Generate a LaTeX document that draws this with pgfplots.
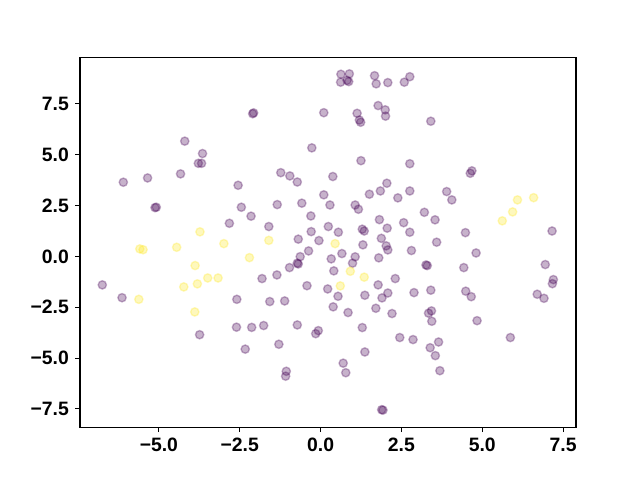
\documentclass[border=0pt]{standalone}
\usepackage{fontspec}
\setmainfont{Liberation Sans}
\usepackage{pgfplots}
\pgfplotsset{compat=1.18}
\definecolor{vP}{RGB}{68,1,84}
\definecolor{vY}{RGB}{253,231,37}
\begin{document}
\begin{tikzpicture}
\useasboundingbox (-0.8in,-0.528in) rectangle (5.6in,4.272in);
\begin{axis}[
  at={(0,0)}, anchor=south west,
  scale only axis, width=4.96in, height=3.696in,
  xmin=-7.44, xmax=7.90, ymin=-8.40, ymax=9.78,
  axis line style={line width=0.8pt, black},
  tick align=outside, tick style={line width=0.8pt, black},
  major tick length=3.5pt,
  xtick={-5,-2.5,0,2.5,5,7.5},
  xticklabels={−5.0,−2.5,0.0,2.5,5.0,7.5},
  ytick={-7.5,-5,-2.5,0,2.5,5,7.5},
  yticklabels={−7.5,−5.0,−2.5,0.0,2.5,5.0,7.5},
  xtick pos=bottom, ytick pos=left,
  ticklabel style={font=\fontsize{14}{16}\selectfont\bfseries},
  xticklabel style={yshift=-1pt},
  yticklabel style={xshift=-1pt},
  every axis plot/.append style={only marks, mark=*, mark size=3pt, line width=1pt},
]
\addplot[mark options={fill=vP, draw=vP, opacity=0.3}] coordinates {
(0.63,8.96) (0.89,8.98) (0.62,8.57) (0.82,8.66) (0.87,8.60) (1.67,8.89) (1.72,8.49) (2.08,8.55) (2.59,8.57) (2.76,8.84)
(-2.10,7.02) (-2.07,7.06) (0.10,7.07) (1.13,7.04) (1.20,6.71) (1.24,6.60) (1.78,7.42) (2.00,7.21) (2.01,6.90)
(-0.27,5.34) (1.25,4.71) (2.76,4.56) (-1.23,4.12) (-0.95,3.96) (-0.72,3.66) (0.38,3.93) (2.05,3.60) (1.85,3.22)
(1.51,3.06) (0.10,3.03) (2.76,3.22) (2.39,2.88) (-1.34,2.55) (-0.58,2.62) (0.29,2.53) (1.07,2.53) (1.17,2.32)
(-2.15,1.98) (-0.30,1.99) (1.82,1.81) (2.57,1.66) (-1.60,1.47) (0.24,1.47) (2.06,1.39) (-0.29,1.22) (0.55,1.19)
(1.29,1.34) (1.35,1.25) (2.76,1.19) (-0.69,0.85) (-0.05,0.78) (1.31,0.57) (1.88,0.89) (2.03,0.52) (2.08,0.32)
(-4.20,5.67) (-3.65,5.06) (-3.78,4.58) (-3.68,4.58) (-6.10,3.65) (-5.35,3.86) (-4.33,4.06) (-2.55,3.50)
(-5.12,2.40) (-5.08,2.42) (-2.45,2.42) (-2.82,1.63) (3.41,6.65) (4.68,4.21) (4.63,4.09) (3.90,3.19) (4.06,2.78)
(3.21,2.17) (3.54,1.80) (4.48,1.17) (7.16,1.25) (3.59,0.70) (-6.75,-1.40) (-6.14,-2.03) (-2.59,-2.11)
(-2.60,-3.48) (-3.74,-3.85) (-2.33,-4.56) (2.81,0.29) (-0.63,-0.01) (-0.37,0.27) (-0.72,-0.33) (-0.69,-0.37)
(-0.96,-0.55) (-1.35,-0.91) (-1.81,-1.09) (0.33,-0.12) (0.66,0.14) (1.07,-0.02) (0.99,-0.33) (0.41,-0.71)
(1.80,-0.07) (2.31,-1.09) (1.78,-1.40) (-0.42,-1.44) (0.22,-1.60) (0.54,-1.96) (1.37,-1.91) (2.08,-1.80)
(1.90,-2.04) (2.89,-1.78) (-1.57,-2.22) (-1.11,-2.19) (0.39,-2.48) (0.85,-2.76) (1.71,-2.55) (2.21,-2.81)
(-2.13,-3.49) (-1.76,-3.40) (-0.72,-3.37) (-0.07,-3.65) (-0.15,-3.80) (1.29,-3.50) (2.45,-3.99) (2.86,-4.09)
(-1.29,-4.32) (1.37,-4.70) (-1.06,-5.65) (-1.08,-5.89) (0.70,-5.25) (0.78,-5.72) (1.89,-7.54) (1.93,-7.56)
(4.81,0.17) (3.26,-0.42) (3.30,-0.45) (4.43,-0.55) (6.95,-0.40) (7.20,-1.14) (7.17,-1.34) (3.41,-1.66)
(4.49,-1.71) (4.66,-1.98) (6.70,-1.86) (6.91,-2.06) (3.43,-2.68) (3.34,-2.79) (3.44,-3.19) (4.84,-3.16)
(3.65,-4.21) (3.39,-4.49) (3.55,-4.88) (3.69,-5.62) (5.87,-3.99)
};
\addplot[mark options={fill=vY, draw=vY, opacity=0.3}] coordinates {
(-5.59,0.37) (-5.49,0.33) (-4.45,0.45) (-2.99,0.63) (-3.73,1.21) (-2.20,-0.06) (-3.88,-0.45) (-3.49,-1.06)
(-3.17,-1.06) (-3.81,-1.35) (-4.23,-1.50) (-5.62,-2.11) (-3.89,-2.73) (-1.60,0.79) (0.45,0.63) (0.92,-0.73)
(1.35,-1.02) (0.61,-1.45) (6.09,2.78) (6.59,2.89) (5.94,2.19) (5.62,1.75)
};
\end{axis}
\end{tikzpicture}
\end{document}
